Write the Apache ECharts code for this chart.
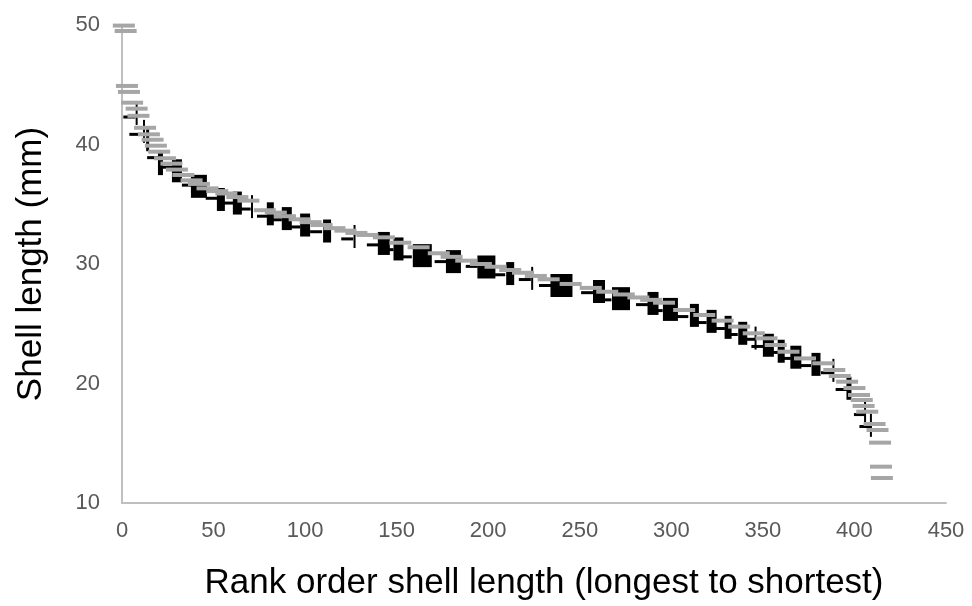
<!DOCTYPE html>
<html>
<head>
<meta charset="utf-8">
<script src="https://cdn.jsdelivr.net/npm/echarts@6/dist/echarts.min.js"></script>
<style>
html,body{margin:0;padding:0;background:#fff;}
#chart{width:972px;height:606px;}
</style>
</head>
<body>
<div id="chart"></div>
<script>
// Gray series: all shells, rank vs shell length (mm)
var grayRank = [1, 2, 2.7, 3.8, 5.5, 8, 9, 12.6, 14.7, 16.7, 18.5, 20.3, 23.5, 27, 30, 33.5, 38, 42, 46.7, 52, 57, 63, 69, 78, 84, 89, 97, 103, 109, 116, 122, 128, 134, 143, 152, 162, 173, 180, 188, 196, 204, 212, 219, 226, 233, 245, 256, 265, 274, 282, 289, 296, 307, 318, 328, 337, 345, 352, 357, 364, 373, 383, 389, 392, 396, 400, 402.5, 404, 405, 407, 411, 412.6, 414, 414.5, 415];
var grayLen = [49.95, 49.5, 44.9, 44.4, 43.5, 43.0, 42.4, 41.4, 40.85, 40.4, 39.9, 39.4, 38.85, 38.4, 37.9, 37.45, 37.0, 36.7, 36.33, 36.1, 35.9, 35.6, 35.3, 34.5, 34.3, 34.0, 33.74, 33.5, 33.26, 33.0, 32.79, 32.6, 32.43, 32.23, 31.78, 31.4, 30.9, 30.6, 30.28, 30.0, 29.77, 29.5, 29.27, 29.0, 28.72, 28.33, 28.0, 27.68, 27.45, 27.2, 27.0, 26.76, 26.15, 25.73, 25.26, 24.76, 24.2, 23.78, 23.22, 22.66, 22.1, 21.69, 21.13, 20.63, 20.15, 19.62, 19.04, 18.62, 18.12, 17.64, 16.61, 16.11, 15.05, 13.04, 12.09];

// Black series: rank, length, and weight (marker width scales with it)
var blackRank = [8, 12, 14, 21, 30, 42, 54, 63, 71, 81, 90, 100, 112, 127, 143, 151, 164, 181, 199, 212, 224, 240, 260.5, 272.5, 290, 299.5, 312.6, 322, 331, 339, 346, 353, 360, 368, 379, 388.5, 397, 405.8, 409];
var blackLen = [42.6, 41.1, 40.4, 38.4, 37.8, 36.5, 35.4, 35.1, 34.8, 34.2, 33.8, 33.26, 32.76, 32.3, 31.72, 31.26, 30.7, 30.2, 29.75, 29.2, 28.8, 28.2, 27.7, 27.1, 26.7, 26.2, 25.7, 25.2, 24.7, 24.2, 23.8, 23.2, 22.7, 22.2, 21.6, 21.1, 19.6, 17.6, 16.5];
var blackN = [1, 1, 1.5, 2.5, 5, 8, 4, 4.5, 1, 3.5, 5, 5, 4, 1, 6, 5, 9.5, 7.5, 9, 4, 1, 11, 6, 9, 5.5, 7.5, 4.5, 5, 3.5, 4.5, 1, 5.5, 3.5, 5.5, 4.5, 1, 2.5, 1, 1];

// Black dash series
var dashRank = [4, 7.3, 17, 25, 36, 49, 58, 67, 77, 84, 94, 106, 123, 137, 145, 155, 174, 191, 206, 220, 231, 254, 264, 284, 292, 306, 316, 326, 333, 343, 347, 356, 362, 373, 385, 393, 403, 406];
var dashLen = [42.3, 40.85, 38.9, 38.1, 36.6, 35.5, 35.1, 34.6, 34.0, 33.7, 33.1, 32.7, 32.1, 31.6, 31.2, 30.6, 30.2, 29.8, 29.1, 28.7, 28.2, 27.6, 27.0, 26.6, 26.1, 25.6, 25.1, 24.6, 24.1, 23.7, 23.1, 22.6, 22.1, 21.5, 20.9, 19.5, 17.4, 16.4];

var xTitle = 'Rank order shell length (longest to shortest)';
var yTitle = 'Shell length (mm)';

function zip(a, b, c) {
  return a.map(function (v, i) { return c ? [v, b[i], c[i]] : [v, b[i]]; });
}

var FONT = "'Liberation Sans', Arial, sans-serif";
var chart = echarts.init(document.getElementById('chart'), null, { renderer: 'canvas' });
chart.setOption({
  animation: false,
  backgroundColor: '#ffffff',
  grid: { left: 122, right: 26, top: 25, bottom: 103, containLabel: false },
  xAxis: {
    type: 'value', min: 0, max: 450, interval: 50,
    name: xTitle, nameLocation: 'middle', nameGap: 63,
    nameTextStyle: { fontSize: 35, color: '#000', fontFamily: FONT, padding: [0, 0, 0, 20] },
    axisLine: { show: true, lineStyle: { color: '#bfbfbf', width: 2 } },
    axisTick: { show: false },
    splitLine: { show: false },
    axisLabel: { fontSize: 22, color: '#595959', fontFamily: FONT, margin: 17 }
  },
  yAxis: {
    type: 'value', min: 10, max: 50, interval: 10,
    name: yTitle, nameLocation: 'middle', nameGap: 73,
    nameTextStyle: { fontSize: 35, color: '#000', fontFamily: FONT },
    axisLine: { show: true, lineStyle: { color: '#bfbfbf', width: 2 } },
    axisTick: { show: false },
    splitLine: { show: false },
    axisLabel: { fontSize: 22, color: '#595959', fontFamily: FONT, margin: 22 }
  },
  series: [
    {
      type: 'scatter', z: 2,
      data: zip(blackRank, blackLen, blackN),
      symbol: 'rect',
      symbolSize: function (d) { return [d[2] * 2, 23]; },
      itemStyle: { color: '#000', opacity: 1 }
    },
    {
      type: 'scatter', z: 3,
      data: zip(dashRank, dashLen),
      symbol: 'rect', symbolSize: [12, 3],
      itemStyle: { color: '#000', opacity: 1 }
    },
    {
      type: 'scatter', z: 4,
      data: zip(grayRank, grayLen),
      symbol: 'rect', symbolSize: [22, 4],
      itemStyle: { color: '#a6a6a6', opacity: 1 }
    }
  ]
});
</script>
</body>
</html>
